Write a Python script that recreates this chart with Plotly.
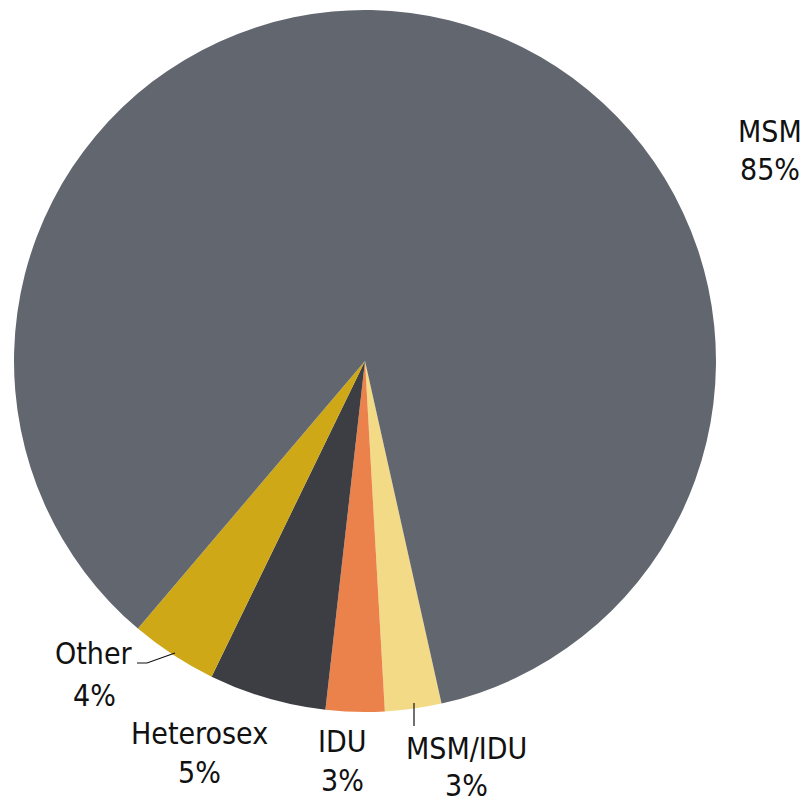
import plotly.graph_objects as go

W, H = 808, 805

# slices, clockwise starting just right of the bottom
labels = ['MSM/IDU', 'IDU', 'Heterosex', 'Other', 'MSM']
values = [2.6, 2.7, 5.4, 4.0, 85.3]
colors = ['#f3da87', '#ec824b', '#3c3e44', '#cea816', '#62676f']

# label positions in pixels (centre x, label y, percent y)
label_pos = {
    'MSM': (770, 131, 169),
    'Other': (94, 653, 695),
    'Heterosex': (199, 733, 772),
    'IDU': (342, 741, 780),
    'MSM/IDU': (467, 748, 785),
}

font_family = 'Liberation Sans Narrow, Arial Narrow, DejaVu Sans Condensed, sans-serif'


def px(x, y):
    return x / W, 1 - y / H


fig = go.Figure()
fig.add_trace(go.Pie(
    labels=labels,
    values=values,
    sort=False,
    direction='clockwise',
    rotation=167.4,
    marker=dict(colors=colors, line=dict(width=0)),
    textinfo='none',
    hoverinfo='label+percent',
    showlegend=False,
    domain=dict(x=[14 / W, 716 / W], y=[1 - 712 / H, 1 - 10 / H]),
))

total = sum(values)
annotations = []
for lab, val in zip(labels, values):
    cx, ly, py = label_pos[lab]
    for txt, yy in [(lab, ly), ('%d%%' % round(val / total * 100), py)]:
        x, y = px(cx, yy)
        annotations.append(dict(
            x=x, y=y, xref='paper', yref='paper', text=txt, showarrow=False,
            xanchor='center', yanchor='middle',
            font=dict(family=font_family, size=30, color='#111111'),
        ))

# leader lines
shapes = []
other_line = [(137, 663), (147, 663), (175, 653)]
msmidu_line = [(414, 703), (414, 726)]
for pts in [other_line, msmidu_line]:
    path = 'M ' + ' L '.join('%f %f' % px(*p) for p in pts)
    shapes.append(dict(type='path', path=path, xref='paper', yref='paper',
                       line=dict(color='#111111', width=1.2)))

fig.update_layout(
    width=W, height=H,
    margin=dict(l=0, r=0, t=0, b=0),
    paper_bgcolor='white',
    annotations=annotations,
    shapes=shapes,
)

# drop the default page margin so the figure fills the window
fig.write_html('out.html', config={'displayModeBar': False},
               post_script="document.body.style.margin='0';")
